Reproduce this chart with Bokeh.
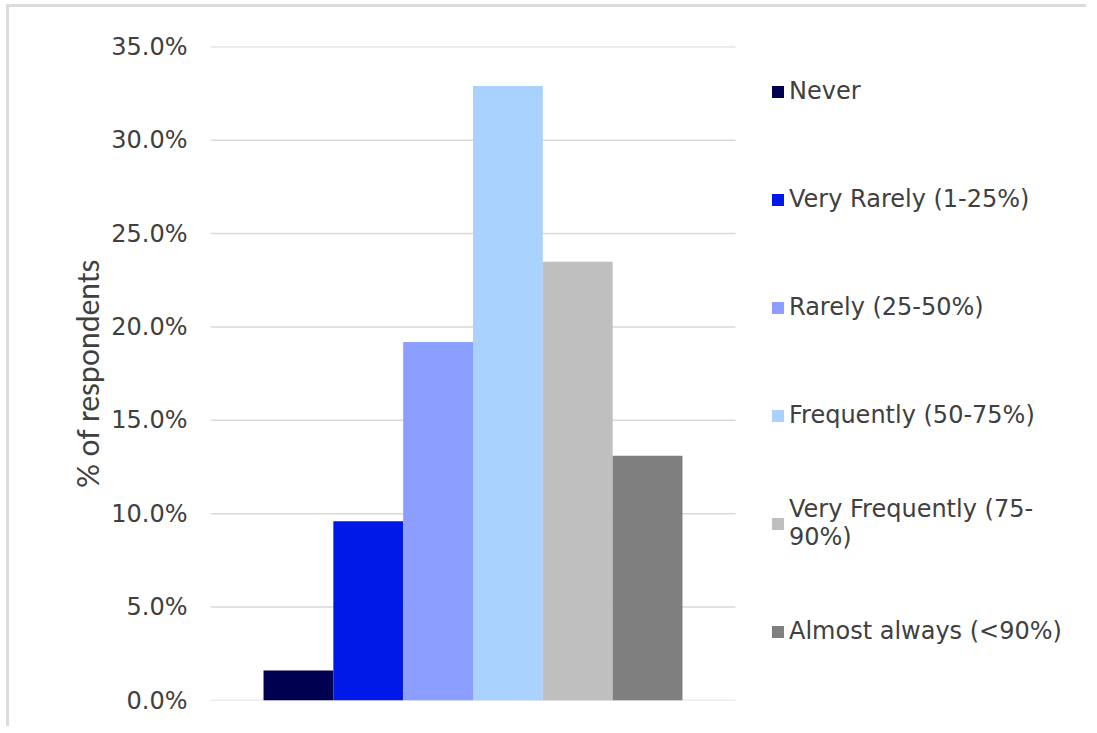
from bokeh.plotting import figure
from bokeh.models import Legend, LegendItem, NumeralTickFormatter, Range1d
from bokeh.embed import file_html
from bokeh.resources import INLINE

# ---- data ----
categories = ["Never", "Very Rarely (1-25%)", "Rarely (25-50%)", "Frequently (50-75%)",
              "Very Frequently (75-\n90%)", "Almost always (<90%)"]
values = [0.016, 0.096, 0.192, 0.329, 0.235, 0.131]
colors = ["#000050", "#0018E8", "#8C9EFF", "#AAD2FF", "#BFBFBF", "#7F7F7F"]
y_ticks = [0.0, 0.05, 0.10, 0.15, 0.20, 0.25, 0.30, 0.35]

W, H = 1080, 722
FRAME_L, FRAME_T, FRAME_B = 201, 39, 693
PLOT_W = 525  # width of the gridded plot area; the rest of the frame holds the legend
x_end = (W - FRAME_L) / PLOT_W

p = figure(width=W, height=H, output_backend="svg", toolbar_location=None,
           x_range=Range1d(0, x_end), y_range=Range1d(0, 0.3502),
           min_border_left=FRAME_L, min_border_right=0,
           min_border_top=FRAME_T, min_border_bottom=H - FRAME_B,
           styles={"border-left": "3px solid #DCDCDC", "border-top": "3px solid #DCDCDC",
                   "margin-left": "6px", "margin-top": "4px"})
p.outline_line_color = None
p.background_fill_color = "white"

# gridlines across the plot area only
p.segment(x0=[0] * len(y_ticks), x1=[1] * len(y_ticks), y0=y_ticks, y1=y_ticks,
          line_color="#D9D9D9", line_width=1.5)

# bars: one category cluster, 6 series, no gaps
n = len(values)
gap = 0.101
bw = (1 - 2 * gap) / n
xs = [gap + bw * (i + 0.5) for i in range(n)]
renderers = []
for i in range(n):
    r = p.vbar(x=[xs[i]], top=[values[i]], bottom=0, width=bw, fill_color=colors[i], line_color=None)
    renderers.append(r)

# axes
p.xaxis.visible = False
p.xgrid.visible = False
p.ygrid.visible = False
p.yaxis.ticker = y_ticks
p.yaxis.formatter = NumeralTickFormatter(format="0.0%")
p.yaxis.axis_line_color = None
p.yaxis.major_tick_line_color = None
p.yaxis.minor_tick_line_color = None
p.yaxis.major_label_text_font = "DejaVu Sans"
p.yaxis.major_label_text_font_size = "24px"
p.yaxis.major_label_text_color = "#404040"
p.yaxis.major_label_standoff = 17
p.yaxis.axis_label = "% of respondents"
p.yaxis.axis_label_text_font = "Lato"
p.yaxis.axis_label_text_font_style = "normal"
p.yaxis.axis_label_text_font_size = "30px"
p.yaxis.axis_label_text_color = "#404040"
p.yaxis.axis_label_standoff = 3

# legend
items = [LegendItem(label=categories[i], renderers=[renderers[i]]) for i in range(n)]
legend = Legend(items=items, location=(560, 41), orientation="vertical",
                glyph_width=15, glyph_height=15, label_height=56, spacing=52,
                label_standoff=4, padding=0, margin=0,
                border_line_color=None, background_fill_alpha=0,
                label_text_font="DejaVu Sans", label_text_font_size="24px",
                label_text_color="#404040")
p.add_layout(legend, "center")

open("out.html", "w").write(file_html(p, INLINE))
